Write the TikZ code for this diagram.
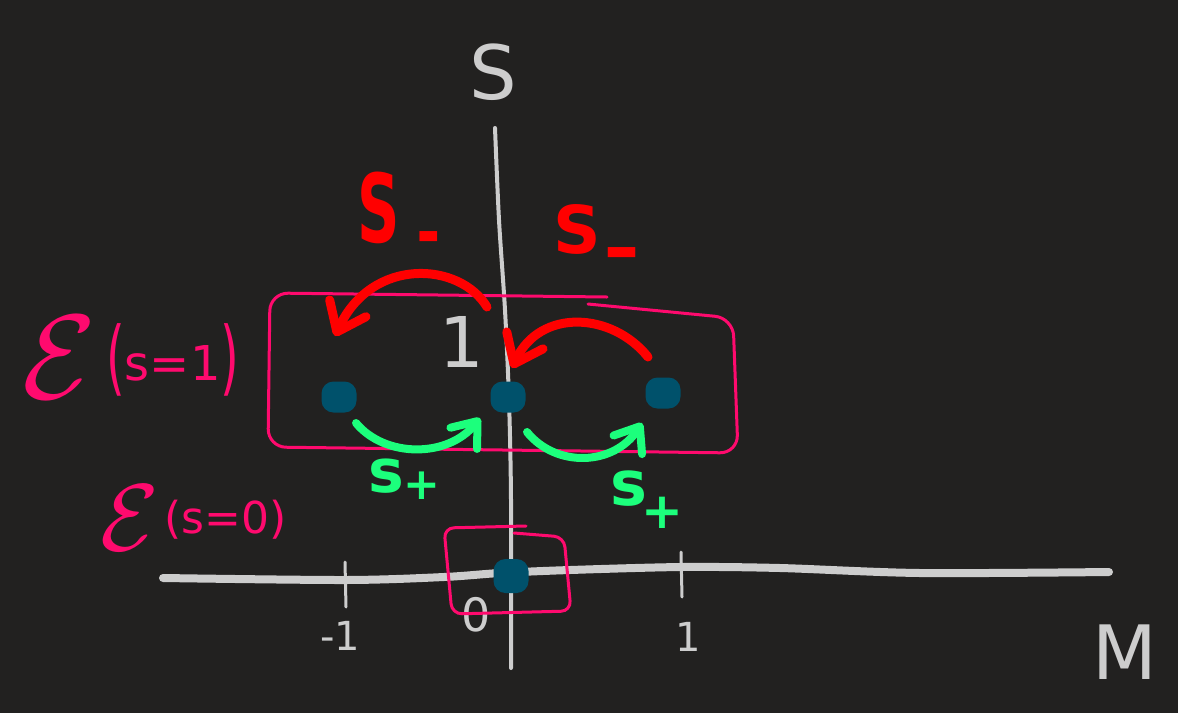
\documentclass[tikz,border=0pt]{standalone}
\usepackage{fontspec}
\setmainfont{DejaVu Sans}
\usepackage{graphicx}
\usetikzlibrary{arrows.meta,positioning,calc}
\definecolor{Backdrop}{HTML}{222120}
\definecolor{Chalk}{HTML}{CDCDCD}
\definecolor{Scarlet}{HTML}{FF0000}
\definecolor{Rose}{HTML}{FF0A6E}
\definecolor{Mint}{HTML}{1CFF7C}
\definecolor{DeepTeal}{HTML}{00516B}

\begin{document}
\begin{tikzpicture}[x=1pt,y=-1pt,
  axis/.style={Chalk,line cap=round,line join=round},
  spin/.style={fill=DeepTeal,rounded corners=12pt,minimum width=35pt,minimum height=31pt,inner sep=0pt},
  shell/.style={Rose,line width=3pt,rounded corners=18pt,line cap=round},
  lowerarrow/.style={Scarlet,line width=9pt,line cap=round,-{Straight Barb[round,length=26pt,width=40pt]}},
  raisearrow/.style={Mint,line width=8pt,line cap=round,-{Straight Barb[round,length=22pt,width=34pt]}},
  lbl/.style={inner sep=0pt,outer sep=0pt}]
  \fill[Backdrop] (0,0) rectangle (1178,713);

  \draw[axis,line width=4pt] plot[smooth] coordinates
    {(495,128)(499,220)(505,310)(509,400)(511,500)(511,668)};
  \draw[axis,line width=8pt] plot[smooth] coordinates
    {(163,578)(346,580)(444,577)(500,573)(570,570)(682,567)
     (780,568)(920,573)(1109,572)};
  \draw[axis,line width=3pt] (345,562) -- (346,607);
  \draw[axis,line width=3pt] (681,552) -- (682,597);

  \node[lbl,text=Chalk,font=\fontsize{75}{75}\selectfont] (labS) at (493,72) {S};
  \node[lbl,text=Chalk,font=\fontsize{75}{75}\selectfont] (labM) at (1125,652) {M};
  \node[lbl,text=Chalk,font=\fontsize{40}{40}\selectfont] (tickm) at (340,636) {-1};
  \node[lbl,text=Chalk,font=\fontsize{46}{46}\selectfont] (tickz) at (476,615) {0};
  \node[lbl,text=Chalk,font=\fontsize{40}{40}\selectfont] (tickp) at (688,637) {1};
  \node[lbl,text=Chalk,font=\fontsize{70}{70}\selectfont] (level) at (462,342) {1};

  \draw[shell] (607,297) -- (270,293) -- (268,447) -- (738,453) -- (733,318) -- (588,304);
  \draw[shell,rounded corners=10pt] (526,526) -- (444,528) -- (452,614) -- (571,611) -- (564,537) -- (514,533);

  \node[spin] (mneg) at (339,397) {};
  \node[spin] (mzero) at (508,397) {};
  \node[spin] (mpos) at (663,393) {};
  \node[spin,minimum height=34pt] (ground) at (511,576) {};

  \coordinate (sa) at (487,307);
  \coordinate (ta) at (335,336);
  \coordinate (sb) at (648,357);
  \coordinate (tb) at (512,368);
  \coordinate (sc) at (356,423);
  \coordinate (tc) at (480,418);
  \coordinate (sd) at (527,432);
  \coordinate (td) at (642,423);
  \draw[lowerarrow] (sa) .. controls (460,262) and (372,256) .. (ta);
  \draw[lowerarrow] (sb) .. controls (612,312) and (540,308) .. (tb);
  \draw[raisearrow] (sc) .. controls (385,458) and (448,458) .. (tc);
  \draw[raisearrow] (sd) .. controls (556,468) and (614,466) .. (td);

  \node[lbl,anchor=base west,text=Scarlet,font=\fontsize{95}{95}\selectfont\bfseries] (lowA) at (357,242)
    {\scalebox{0.62}[1]{S}\hspace{18pt}\raisebox{-16pt}{\fontsize{50}{50}\selectfont\scalebox{0.9}[1.6]{–}}};
  \node[lbl,anchor=base west,text=Scarlet,font=\fontsize{66}{66}\selectfont\bfseries] (lowB) at (553,253)
    {S\hspace{4pt}\raisebox{-21pt}{\fontsize{50}{50}\selectfont\scalebox{1.4}[1.6]{–}}};
  \node[lbl,anchor=base west,text=Mint,font=\fontsize{60}{60}\selectfont\bfseries] (raiseA) at (368,492)
    {s\raisebox{-7pt}{\fontsize{44}{44}\selectfont +}};
  \node[lbl,anchor=base west,text=Mint,font=\fontsize{62}{62}\selectfont\bfseries] (raiseB) at (610,505)
    {s\hspace{-5pt}\raisebox{-23pt}{\fontsize{50}{50}\selectfont +}};

  \node[lbl,anchor=base west,text=Rose,font=\fontsize{48}{48}\selectfont] (Eone) at (22,380)
    {\raisebox{-18pt}{\scalebox{12}{\normalsize$\mathcal{E}$}}\hspace{10pt}\raisebox{-5pt}{\scalebox{1}[1.7]{(}}s=1\raisebox{-5pt}{\scalebox{1}[1.7]{)}}};
  \node[lbl,anchor=base west,text=Rose,font=\fontsize{44}{44}\selectfont] (Ezero) at (100,533)
    {\raisebox{-17pt}{\scalebox{9.5}{\normalsize$\mathcal{E}$}}\hspace{6pt}(s=0)};
\end{tikzpicture}
\end{document}
